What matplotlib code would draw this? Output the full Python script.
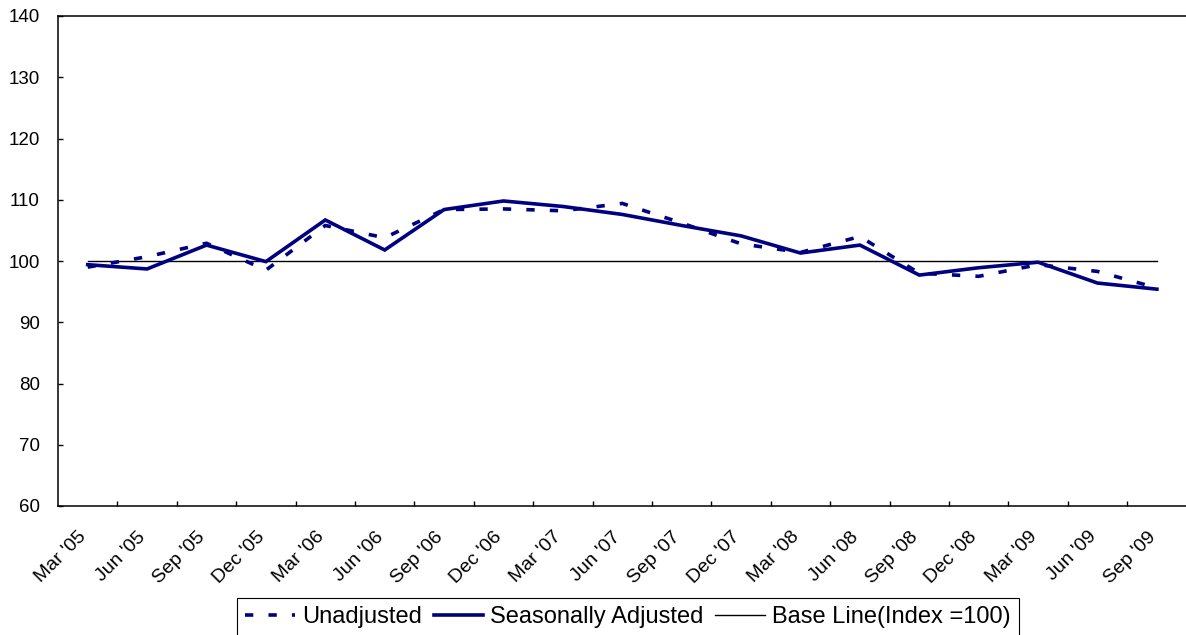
import matplotlib
matplotlib.use("Agg")
import matplotlib.pyplot as plt
import matplotlib.transforms as mtransforms

plt.rcParams['font.family'] = ['Liberation Sans', 'DejaVu Sans']

categories = ["Mar '05", "Jun '05", "Sep '05", "Dec '05", "Mar '06", "Jun '06", "Sep '06",
              "Dec '06", "Mar '07", "Jun '07", "Sep '07", "Dec '07", "Mar '08", "Jun '08",
              "Sep '08", "Dec '08", "Mar '09", "Jun '09", "Sep '09"]
unadjusted = [99.0, 100.7, 102.9, 98.5, 105.8, 103.8, 108.4, 108.5, 108.2, 109.4,
              106.2, 102.8, 101.4, 104.0, 98.0, 97.5, 99.4, 98.3, 95.6]
seasonally_adjusted = [99.4, 98.7, 102.6, 99.9, 106.7, 101.8, 108.4, 109.8, 108.9, 107.6,
                       105.8, 104.1, 101.3, 102.6, 97.7, 98.9, 99.8, 96.4, 95.4]
base_line = [100] * len(categories)
y_ticks = [60, 70, 80, 90, 100, 110, 120, 130, 140]

W, H = 1186, 635
fig = plt.figure(figsize=(W / 100, H / 100), dpi=100)
ax = fig.add_axes([58 / W, 1 - 506 / H, 1128.6 / W, 490 / H])

x = list(range(len(categories)))
navy = '#000080'
ax.plot(x, unadjusted, color=navy, lw=2.6, linestyle=(0, (2.3, 4.2)),
        dash_capstyle='butt', label='Unadjusted', zorder=3)
ax.plot(x, seasonally_adjusted, color=navy, lw=2.6, solid_joinstyle='miter',
        label='Seasonally Adjusted', zorder=4)
ax.plot(x, base_line, color='black', lw=1.0, label='Base Line(Index =100)', zorder=2)

ax.set_xlim(-0.5, len(categories) - 0.5)
ax.set_ylim(60, 140)
ax.set_yticks(y_ticks)
ax.tick_params(axis='y', direction='in', length=3.6, width=1.0, labelsize=13.5, pad=13)

ax.set_xticks(x)
ax.set_xticklabels(categories, rotation=45, ha='right', va='top', rotation_mode='anchor')
ax.tick_params(axis='x', which='major', length=0, labelsize=14, pad=16)
ax.set_xticks([i + 0.5 for i in range(len(categories) - 1)], minor=True)
ax.tick_params(axis='x', which='minor', direction='in', length=3.6, width=1.0)
offset = mtransforms.ScaledTranslation(-10 / 100, 0, fig.dpi_scale_trans)
for lab in ax.get_xticklabels():
    lab.set_transform(lab.get_transform() + offset)

for s in ['left', 'bottom', 'top']:
    ax.spines[s].set_linewidth(1.1)
    ax.spines[s].set_color('black')
ax.spines['right'].set_visible(False)

leg = ax.legend(loc='upper center', bbox_to_anchor=(628 / W, 1 - 598 / H),
                bbox_transform=fig.transFigure, ncol=3, fontsize=17,
                frameon=True, fancybox=False, framealpha=1, edgecolor='black',
                handlelength=2.1, handletextpad=0.3, columnspacing=0.5,
                borderpad=0.35, borderaxespad=0)
leg.get_frame().set_linewidth(0.8)

fig.savefig('out.png', dpi=100)
